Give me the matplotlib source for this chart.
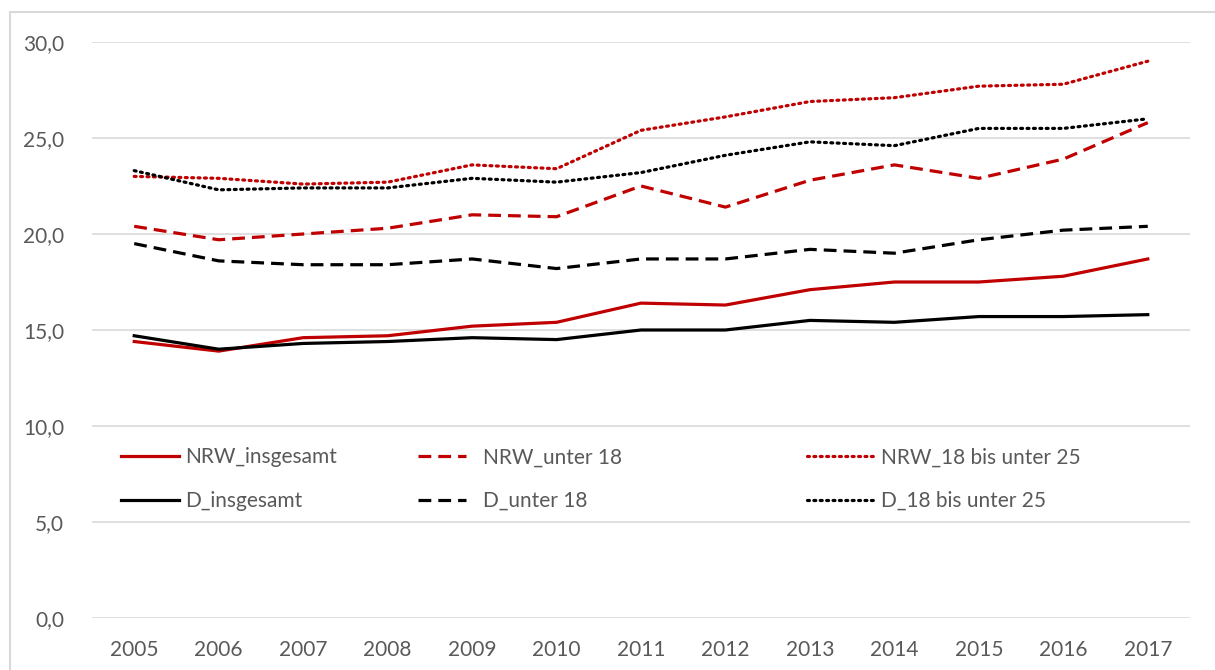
import matplotlib.pyplot as plt
from matplotlib.patches import Rectangle

years = [str(y) for y in range(2005, 2018)]

nrw_insgesamt = [14.4, 13.9, 14.6, 14.7, 15.2, 15.4, 16.4, 16.3, 17.1, 17.5, 17.5, 17.8, 18.7]
d_insgesamt = [14.7, 14.0, 14.3, 14.4, 14.6, 14.5, 15.0, 15.0, 15.5, 15.4, 15.7, 15.7, 15.8]
nrw_u18 = [20.4, 19.7, 20.0, 20.3, 21.0, 20.9, 22.5, 21.4, 22.8, 23.6, 22.9, 23.9, 25.8]
d_u18 = [19.5, 18.6, 18.4, 18.4, 18.7, 18.2, 18.7, 18.7, 19.2, 19.0, 19.7, 20.2, 20.4]
nrw_18_25 = [23.0, 22.9, 22.6, 22.7, 23.6, 23.4, 25.4, 26.1, 26.9, 27.1, 27.7, 27.8, 29.0]
d_18_25 = [23.3, 22.3, 22.4, 22.4, 22.9, 22.7, 23.2, 24.1, 24.8, 24.6, 25.5, 25.5, 26.0]

yticks = [0, 5, 10, 15, 20, 25, 30]

plt.rcParams['font.family'] = ['Lato', 'DejaVu Sans']
red = '#c00000'
black = '#000000'
txt = '#595959'
fs = 15

fig = plt.figure(figsize=(12.15, 6.7), dpi=100)
fig.patches.append(Rectangle((10 / 1215, -0.1), 1.2, 1.1 - 12 / 670,
                             transform=fig.transFigure, fill=False,
                             edgecolor='#d9d9d9', lw=1.5))
ax = fig.add_axes([92 / 1215, 1 - 618 / 670, (1190 - 92) / 1215, (618 - 42) / 670])

x = range(len(years))
lw = 2.3
dash = (0, (4, 2.2))
dot = (0, (0.6, 1.4))

l1, = ax.plot(x, nrw_insgesamt, color=red, lw=lw, label='NRW_insgesamt')
l2, = ax.plot(x, d_insgesamt, color=black, lw=lw, label='D_insgesamt')
l3, = ax.plot(x, nrw_u18, color=red, lw=lw, ls=dash, label='NRW_unter 18')
l4, = ax.plot(x, d_u18, color=black, lw=lw, ls=dash, label='D_unter 18')
l5, = ax.plot(x, nrw_18_25, color=red, lw=lw, ls=dot, dash_capstyle='round', label='NRW_18 bis unter 25')
l6, = ax.plot(x, d_18_25, color=black, lw=lw, ls=dot, dash_capstyle='round', label='D_18 bis unter 25')

ax.set_xlim(-0.5, len(years) - 0.5)
ax.set_ylim(0, 30)
ax.set_xticks(list(x))
ax.set_xticklabels(years)
ax.set_yticks(yticks)
ax.set_yticklabels([f'{v:.1f}'.replace('.', ',') for v in yticks])
ax.tick_params(length=0, labelsize=fs, colors=txt)
ax.tick_params(axis='x', pad=16)
ax.tick_params(axis='y', pad=20)
ax.grid(axis='y', color='#d9d9d9', lw=1.2)
ax.set_axisbelow(True)
for s in ax.spines.values():
    s.set_visible(False)

# three legend columns placed separately, like the original layout
cols = [([l1, l2], 0.026, 2.8, 0.3), ([l3, l4], 0.297, 2.3, 0.8), ([l5, l6], 0.651, 3.2, 0.35)]
legs = []
for handles, xpos, hl, pad in cols:
    leg = ax.legend(handles=handles, loc='center left', bbox_to_anchor=(xpos, 0.241),
                    frameon=False, fontsize=fs, handlelength=hl, handletextpad=pad,
                    labelspacing=1.15, borderpad=0, borderaxespad=0)
    for t in leg.get_texts():
        t.set_color(txt)
    legs.append(leg)
for leg in legs[:-1]:
    ax.add_artist(leg)

fig.savefig('out.png', dpi=100)
